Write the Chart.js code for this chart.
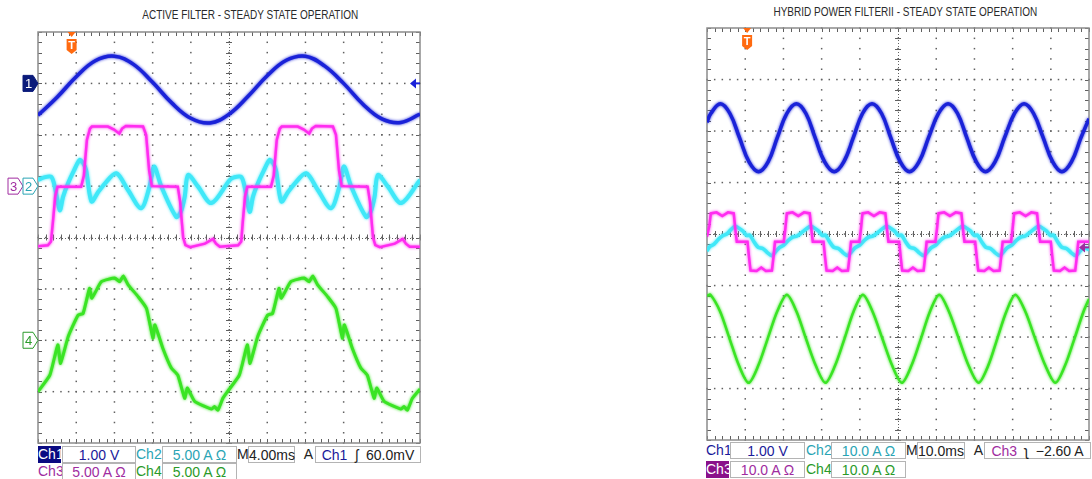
<!DOCTYPE html>
<html lang="en">
<head>
<meta charset="UTF-8">
<title>Active filter / hybrid power filter - steady state operation</title>
<style>
  body { margin: 0; background: #fff; font-family: "Liberation Sans", Arial, sans-serif; }
  #page { position: relative; width: 1092px; height: 479px; overflow: hidden; }
  canvas { position: absolute; top: 0; }
  .title { position: absolute; font-family: "Liberation Sans", Arial, sans-serif; font-size: 13px; color: #2a2a2a; white-space: nowrap; transform: scaleX(0.77); transform-origin: center; }
  .lbl, .box { position: absolute; height: 17px; line-height: 17px; font-size: 14px; white-space: nowrap; text-align: center; box-sizing: border-box; }
  .box { background: #fff; border: 1px solid #b4b4b4; }
</style>
</head>
<body>
<div id="page">
  <div class="title" id="titleLeft" style="left:250px;top:7px">ACTIVE FILTER - STEADY STATE OPERATION</div>
  <div class="title" id="titleRight" style="left:905px;top:4px">HYBRID POWER FILTERII - STEADY STATE OPERATION</div>

  <canvas id="scopeLeft" width="430" height="445" style="left:0"></canvas>
  <canvas id="scopeRight" width="402" height="442" style="left:690px"></canvas>

  <!-- left readout -->
  <div class="lbl" style="left:38px;top:446px;width:23px;background:#0a0a82;color:#fff">Ch1</div>
  <div class="box" style="left:62px;top:446px;width:74px;color:#1a1a9a">1.00 V</div>
  <div class="lbl" style="left:136px;top:446px;width:25px;color:#2aa4b4">Ch2</div>
  <div class="box" style="left:162px;top:446px;width:75px;color:#2aa4b4">5.00 A &Omega;</div>
  <div class="lbl" style="left:237px;top:446px;width:11px;color:#222">M</div>
  <div class="box" style="left:248px;top:446px;width:47px;color:#222">4.00ms</div>
  <div class="lbl" style="left:303px;top:446px;width:11px;color:#222">A</div>
  <div class="box" style="left:315px;top:446px;width:106px;color:#222"><span style="color:#1a1a9a">Ch1</span> &nbsp;&#643;&nbsp; 60.0mV</div>
  <div class="lbl" style="left:38px;top:463px;width:23px;color:#a02ca0">Ch3</div>
  <div class="box" style="left:62px;top:463px;width:74px;color:#a02ca0">5.00 A &Omega;</div>
  <div class="lbl" style="left:136px;top:463px;width:25px;color:#2a9a2a">Ch4</div>
  <div class="box" style="left:162px;top:463px;width:75px;color:#2a9a2a">5.00 A &Omega;</div>

  <!-- right readout -->
  <div class="lbl" style="left:706px;top:442px;width:23px;color:#1a1a9a">Ch1</div>
  <div class="box" style="left:730px;top:442px;width:75px;color:#1a1a9a">1.00 V</div>
  <div class="lbl" style="left:806px;top:442px;width:25px;color:#2aa4b4">Ch2</div>
  <div class="box" style="left:831px;top:442px;width:75px;color:#2aa4b4">10.0 A &Omega;</div>
  <div class="lbl" style="left:906px;top:442px;width:11px;color:#222">M</div>
  <div class="box" style="left:917px;top:442px;width:48px;color:#222">10.0ms</div>
  <div class="lbl" style="left:973px;top:442px;width:11px;color:#222">A</div>
  <div class="box" style="left:984px;top:442px;width:107px;color:#222"><span style="color:#a02ca0">Ch3</span> &nbsp;&#645;&nbsp; &minus;2.60 A</div>
  <div class="lbl" style="left:706px;top:461px;width:23px;background:#8a108a;color:#fff">Ch3</div>
  <div class="box" style="left:730px;top:461px;width:75px;color:#a02ca0">10.0 A &Omega;</div>
  <div class="lbl" style="left:806px;top:461px;width:25px;color:#2a9a2a">Ch4</div>
  <div class="box" style="left:831px;top:461px;width:75px;color:#2a9a2a">10.0 A &Omega;</div>
</div>

<script src="https://cdn.jsdelivr.net/npm/chart.js"></script>
<script>
// all values in screen divisions: time 0..10 div, amplitude -4..4 div from screen centre

// ---- left scope: active filter (4 ms/div) ----
const ch1LeftT = [0, 0.5, 1, 1.5, 2, 2.5, 3, 3.5, 4, 4.5, 5, 5.5, 6, 6.5, 7, 7.5, 8, 8.5, 9, 9.5, 10];
const ch1LeftV = [2.38, 2.73, 3.13, 3.44, 3.53, 3.37, 3.02, 2.62, 2.32, 2.23, 2.40, 2.75, 3.15, 3.45, 3.53, 3.34, 3.00, 2.60, 2.31, 2.24, 2.40];

const ch2LeftT = [0, 0.16, 0.35, 0.45, 0.57, 0.66, 0.79, 0.94, 1.09, 1.18, 1.26, 1.40, 1.57, 1.75, 2.05, 2.36, 2.70, 2.92, 3.04, 3.23, 3.62, 3.74, 3.84, 3.93, 4.19, 4.54,
                  5.02, 5.13, 5.32, 5.42, 5.54, 5.63, 5.76, 5.91, 6.06, 6.15, 6.23, 6.37, 6.54, 6.72, 7.02, 7.33, 7.67, 7.89, 8.01, 8.20, 8.59, 8.71, 8.81, 8.90, 9.16, 9.51, 10];
const ch2LeftV = [1.12, 1.17, 1.18, 0.95, 0.53, 0.80, 1.06, 1.30, 1.51, 1.45, 1.31, 0.70, 0.88, 1.05, 1.25, 0.92, 0.57, 0.99, 1.38, 0.99, 0.40, 0.50, 0.79, 1.22, 0.99, 0.67,
                  1.12, 1.17, 1.18, 0.95, 0.50, 0.80, 1.06, 1.30, 1.51, 1.45, 1.31, 0.70, 0.88, 1.05, 1.25, 0.92, 0.57, 0.99, 1.38, 0.99, 0.40, 0.50, 0.79, 1.22, 0.99, 0.67, 1.12];

const ch3LeftT = [0, 0.26, 0.34, 0.39, 0.45, 0.51, 1.13, 1.20, 1.28, 1.36, 1.41, 1.83, 1.99, 2.13, 2.20, 2.30, 2.75, 2.83, 2.91, 2.98, 3.66, 3.72, 3.80, 3.86, 3.98, 4.37, 4.58, 4.66, 4.76,
                  5.24, 5.32, 5.36, 5.42, 5.48, 6.10, 6.17, 6.25, 6.33, 6.38, 6.80, 6.96, 7.10, 7.17, 7.27, 7.72, 7.80, 7.88, 7.95, 8.63, 8.69, 8.77, 8.83, 8.95, 9.34, 9.55, 9.63, 9.73, 10];
const ch3LeftV = [-0.17, -0.15, -0.08, 0.30, 0.80, 0.99, 0.99, 1.20, 1.90, 2.12, 2.16, 2.16, 2.10, 2.02, 2.12, 2.17, 2.16, 2.00, 1.30, 1.00, 0.99, 0.70, 0.00, -0.15, -0.19, -0.12, -0.03, -0.12, -0.18,
                  -0.15, -0.08, 0.30, 0.80, 0.99, 0.99, 1.20, 1.90, 2.12, 2.16, 2.16, 2.10, 2.02, 2.12, 2.17, 2.16, 2.00, 1.30, 1.00, 0.99, 0.70, 0.00, -0.15, -0.19, -0.12, -0.03, -0.12, -0.18, -0.18];

const ch4LeftT = [0, 0.31, 0.52, 0.59, 0.79, 1.05, 1.18, 1.35, 1.41, 1.66, 2.01, 2.14, 2.23, 2.36, 2.62, 2.84, 3.01, 3.06, 3.27, 3.49, 3.66, 3.84, 3.91, 4.10, 4.54, 4.62, 4.71, 4.84,
                  4.96, 5.27, 5.48, 5.55, 5.75, 6.01, 6.14, 6.31, 6.37, 6.62, 6.97, 7.10, 7.19, 7.32, 7.58, 7.80, 7.97, 8.02, 8.23, 8.45, 8.62, 8.80, 8.87, 9.06, 9.50, 9.58, 9.67, 9.80, 10];
const ch4LeftV = [-3.00, -2.68, -2.09, -2.45, -1.93, -1.51, -1.48, -0.99, -1.18, -0.86, -0.79, -0.86, -0.75, -0.92, -1.15, -1.38, -1.96, -1.70, -2.16, -2.54, -2.68, -3.13, -2.93, -3.19, -3.34, -3.29, -3.36, -3.13,
                  -3.00, -2.68, -2.09, -2.45, -1.93, -1.51, -1.48, -0.99, -1.18, -0.86, -0.79, -0.86, -0.75, -0.92, -1.15, -1.38, -1.96, -1.70, -2.16, -2.54, -2.68, -3.13, -2.93, -3.19, -3.34, -3.29, -3.36, -3.13, -2.95];

// ---- right scope: hybrid power filter II (10 ms/div) ----
const ch1RightT = [0, 0.10, 0.35, 0.60, 0.85, 1.10, 1.35, 1.60, 1.84, 2.09, 2.34, 2.59, 2.83, 3.08, 3.33, 3.58, 3.83, 4.07, 4.32, 4.57, 4.81,
                   5.06, 5.30, 5.55, 5.80, 6.06, 6.31, 6.56, 6.80, 7.05, 7.29, 7.54, 7.79, 8.05, 8.30, 8.55, 8.80, 9.05, 9.29, 9.54, 9.79, 10];
const ch1RightV = [2.17, 2.34, 2.53, 2.34, 1.87, 1.40, 1.21, 1.40, 1.87, 2.34, 2.53, 2.34, 1.87, 1.40, 1.21, 1.40, 1.87, 2.34, 2.53, 2.34, 1.87,
                   1.40, 1.21, 1.40, 1.87, 2.34, 2.53, 2.34, 1.87, 1.40, 1.21, 1.40, 1.87, 2.34, 2.53, 2.34, 1.87, 1.40, 1.21, 1.40, 1.87, 2.24];

const ch2RightT = [0, 0.08, 0.18, 0.30, 0.42, 0.52, 0.62, 0.74, 0.84, 0.94, 1.04, 1.12, 1.22, 1.34, 1.46, 1.58, 1.70,
                   1.80, 1.90, 2.00, 2.12, 2.24, 2.36, 2.50, 2.60, 2.72, 2.82, 2.92, 3.02, 3.10, 3.20, 3.32, 3.44, 3.56, 3.68,
                   3.79, 3.89, 3.99, 4.11, 4.23, 4.35, 4.49, 4.59, 4.71, 4.81, 4.91, 5.01, 5.09, 5.19, 5.31, 5.43, 5.55, 5.67,
                   5.78, 5.88, 5.98, 6.10, 6.22, 6.34, 6.48, 6.58, 6.70, 6.80, 6.90, 7.00, 7.08, 7.18, 7.30, 7.42, 7.54, 7.66,
                   7.77, 7.87, 7.97, 8.09, 8.21, 8.33, 8.47, 8.57, 8.69, 8.79, 8.89, 8.99, 9.07, 9.17, 9.29, 9.41, 9.53, 9.65, 9.76, 9.86, 10];
const ch2RightV = [-0.33, -0.24, -0.20, -0.10, -0.03, 0.00, 0.08, 0.15, 0.11, 0.06, -0.03, -0.02, -0.14, -0.26, -0.28, -0.36, -0.42,
                   -0.34, -0.26, -0.22, -0.13, -0.06, -0.04, 0.04, 0.10, 0.15, 0.11, 0.06, -0.03, -0.02, -0.14, -0.26, -0.28, -0.36, -0.42,
                   -0.34, -0.26, -0.22, -0.13, -0.06, -0.04, 0.04, 0.10, 0.15, 0.11, 0.06, -0.03, -0.02, -0.14, -0.26, -0.28, -0.36, -0.42,
                   -0.34, -0.26, -0.22, -0.13, -0.06, -0.04, 0.04, 0.10, 0.15, 0.11, 0.06, -0.03, -0.02, -0.14, -0.26, -0.28, -0.36, -0.42,
                   -0.34, -0.26, -0.22, -0.13, -0.06, -0.04, 0.04, 0.10, 0.15, 0.11, 0.06, -0.03, -0.02, -0.14, -0.26, -0.28, -0.36, -0.42, -0.34, -0.27, -0.30];

const ch3RightT = [0, 0.06, 0.10, 0.25, 0.40, 0.55, 0.70, 0.74, 0.78, 1.06, 1.10, 1.14, 1.30, 1.42, 1.54, 1.70, 1.74, 1.78, 2.01, 2.05,
                   2.09, 2.24, 2.39, 2.54, 2.69, 2.73, 2.77, 3.05, 3.09, 3.13, 3.29, 3.41, 3.53, 3.69, 3.73, 3.77, 3.99, 4.03,
                   4.07, 4.22, 4.37, 4.52, 4.67, 4.71, 4.75, 5.03, 5.07, 5.11, 5.27, 5.39, 5.51, 5.67, 5.71, 5.75, 5.98, 6.02,
                   6.06, 6.21, 6.36, 6.51, 6.66, 6.70, 6.74, 7.02, 7.06, 7.10, 7.26, 7.38, 7.50, 7.66, 7.70, 7.74, 7.96, 8.00,
                   8.04, 8.19, 8.34, 8.49, 8.64, 8.68, 8.72, 9.00, 9.04, 9.08, 9.24, 9.36, 9.48, 9.64, 9.68, 9.72, 10];
const ch3RightV = [-0.05, 0.15, 0.40, 0.42, 0.35, 0.42, 0.40, 0.10, -0.15, -0.15, -0.45, -0.71, -0.72, -0.65, -0.72, -0.71, -0.45, -0.15, -0.15, 0.10,
                   0.40, 0.42, 0.35, 0.42, 0.40, 0.10, -0.15, -0.15, -0.45, -0.71, -0.72, -0.65, -0.72, -0.71, -0.45, -0.15, -0.15, 0.10,
                   0.40, 0.42, 0.35, 0.42, 0.40, 0.10, -0.15, -0.15, -0.45, -0.71, -0.72, -0.65, -0.72, -0.71, -0.45, -0.15, -0.15, 0.10,
                   0.40, 0.42, 0.35, 0.42, 0.40, 0.10, -0.15, -0.15, -0.45, -0.71, -0.72, -0.65, -0.72, -0.71, -0.45, -0.15, -0.15, 0.10,
                   0.40, 0.42, 0.35, 0.42, 0.40, 0.10, -0.15, -0.15, -0.45, -0.71, -0.72, -0.65, -0.72, -0.71, -0.45, -0.15, -0.15];

const ch4RightT = [0, 0.09, 0.34, 0.59, 0.84, 1.09, 1.34, 1.59, 1.84, 2.09, 2.34, 2.59, 2.85, 3.10, 3.35, 3.60, 3.84, 4.08, 4.33, 4.59, 4.85,
                   5.10, 5.35, 5.60, 5.84, 6.08, 6.33, 6.59, 6.85, 7.11, 7.36, 7.60, 7.84, 8.07, 8.33, 8.59, 8.86, 9.12, 9.37, 9.62, 9.86, 10];
const ch4RightV = [-1.20, -1.18, -1.50, -2.03, -2.56, -2.89, -2.56, -2.03, -1.50, -1.18, -1.50, -2.03, -2.56, -2.89, -2.56, -2.03, -1.50, -1.18, -1.50, -2.03, -2.56,
                   -2.89, -2.56, -2.03, -1.50, -1.18, -1.50, -2.03, -2.56, -2.89, -2.56, -2.03, -1.50, -1.18, -1.50, -2.03, -2.56, -2.89, -2.56, -2.03, -1.50, -1.26];

const BLUE = '#1a22d8', CYAN = '#40e8f8', MAGENTA = '#ff2cf0', GREEN = '#3ae424';

function pts(t, v) {
    return t.map((x, i) => ({ x: x, y: v[i] }));
}

function trace(t, v, color, width, tension, order) {
    return { data: pts(t, v), borderColor: color, borderWidth: width, tension: tension, pointRadius: 0, fill: false, order: order };
}

// graticule, ground tags, trigger marks
const scopeGrid = {
    id: 'scopeGrid',
    beforeDatasetsDraw(chart) {
        const { ctx, chartArea: a, scales: { x, y } } = chart;
        ctx.save();
        ctx.fillStyle = '#606060';
        for (let i = 1; i < 10; i++) {
            const px = x.getPixelForValue(i);
            for (let v = -40; v <= 40; v += 2) ctx.fillRect(px - 0.7, y.getPixelForValue(v / 10) - 0.7, 1.5, 1.5);
        }
        for (let j = -3; j <= 3; j++) {
            const py = y.getPixelForValue(j);
            for (let t = 0; t <= 50; t++) ctx.fillRect(x.getPixelForValue(t / 5) - 0.7, py - 0.7, 1.5, 1.5);
        }
        // centre cross and border ticks
        ctx.strokeStyle = '#606060';
        ctx.lineWidth = 1;
        ctx.beginPath();
        const cx = x.getPixelForValue(5), cy = y.getPixelForValue(0);
        for (let t = 0; t <= 50; t++) {
            const px = Math.round(x.getPixelForValue(t / 5)) + 0.5;
            ctx.moveTo(px, cy - 3); ctx.lineTo(px, cy + 3);
            ctx.moveTo(px, a.top); ctx.lineTo(px, a.top + 4);
            ctx.moveTo(px, a.bottom); ctx.lineTo(px, a.bottom - 4);
        }
        for (let v = -20; v <= 20; v++) {
            const py = Math.round(y.getPixelForValue(v / 5)) + 0.5;
            ctx.moveTo(cx - 3, py); ctx.lineTo(cx + 3, py);
            ctx.moveTo(a.left, py); ctx.lineTo(a.left + 4, py);
            ctx.moveTo(a.right, py); ctx.lineTo(a.right - 4, py);
        }
        ctx.stroke();
        ctx.setLineDash([1, 2]);
        ctx.beginPath();
        ctx.moveTo(a.left, Math.round(cy) + 0.5); ctx.lineTo(a.right, Math.round(cy) + 0.5);
        ctx.moveTo(Math.round(cx) + 0.5, a.top); ctx.lineTo(Math.round(cx) + 0.5, a.bottom);
        ctx.stroke();
        ctx.setLineDash([]);
        ctx.strokeStyle = '#8c8c8c';
        ctx.lineWidth = 1.5;
        ctx.strokeRect(a.left, a.top, a.right - a.left, a.bottom - a.top);
        ctx.restore();
    },
    beforeDatasetDraw(chart, args) {
        const ctx = chart.ctx;
        ctx.save();
        ctx.shadowColor = args.meta.dataset.options.borderColor;
        ctx.shadowBlur = 3;
    },
    afterDatasetDraw(chart) {
        chart.ctx.restore();
    },
    afterDraw(chart, args, opts) {
        const { ctx, chartArea: a, scales: { x, y } } = chart;
        ctx.save();
        ctx.font = '13px "Liberation Sans", Arial, sans-serif';
        ctx.textAlign = 'center';
        ctx.textBaseline = 'middle';
        (opts.tags || []).forEach(tg => {
            const xr = tg.right, yc = y.getPixelForValue(tg.level), h = 16, w = 15;
            ctx.beginPath();
            ctx.moveTo(xr - w, yc - h / 2);
            ctx.lineTo(xr - 5, yc - h / 2);
            ctx.lineTo(xr, yc);
            ctx.lineTo(xr - 5, yc + h / 2);
            ctx.lineTo(xr - w, yc + h / 2);
            ctx.closePath();
            ctx.fillStyle = tg.filled ? tg.color : '#fff';
            ctx.fill();
            ctx.strokeStyle = tg.color;
            ctx.lineWidth = 1;
            ctx.stroke();
            ctx.fillStyle = tg.filled ? '#fff' : tg.color;
            ctx.fillText(tg.text, xr - w / 2 - 2, yc + 1);
        });
        // trigger position
        const tx = x.getPixelForValue(opts.trigX);
        ctx.fillStyle = '#ff6a10';
        ctx.beginPath();
        ctx.moveTo(tx - 4, a.top); ctx.lineTo(tx + 4, a.top); ctx.lineTo(tx, a.top + 5); ctx.closePath();
        ctx.fill();
        ctx.beginPath();
        ctx.moveTo(tx - 5, a.top + 7); ctx.lineTo(tx + 5, a.top + 7); ctx.lineTo(tx + 5, a.top + 18);
        ctx.lineTo(tx, a.top + 22); ctx.lineTo(tx - 5, a.top + 18); ctx.closePath();
        ctx.fill();
        ctx.fillStyle = '#fff';
        ctx.font = 'bold 11px "Liberation Sans", Arial, sans-serif';
        ctx.fillText('T', tx, a.top + 14);
        // trigger level arrow on the right edge
        if (opts.level) {
            const ly = y.getPixelForValue(opts.level.value);
            ctx.fillStyle = opts.level.color;
            ctx.strokeStyle = opts.level.color;
            ctx.lineWidth = 2;
            ctx.beginPath();
            ctx.moveTo(a.right - 10, ly); ctx.lineTo(a.right - 4, ly - 5); ctx.lineTo(a.right - 4, ly + 5); ctx.closePath();
            ctx.fill();
            ctx.beginPath();
            ctx.moveTo(a.right - 5, ly); ctx.lineTo(a.right, ly);
            ctx.stroke();
        }
        ctx.restore();
    }
};

function makeScope(id, datasets, pad, marks) {
    return new Chart(document.getElementById(id), {
        type: 'line',
        data: { datasets: datasets },
        options: {
            responsive: false,
            animation: false,
            layout: { padding: pad },
            scales: {
                x: { type: 'linear', min: 0, max: 10, display: false },
                y: { type: 'linear', min: -4, max: 4, display: false }
            },
            plugins: { legend: { display: false }, tooltip: { enabled: false }, scopeGrid: marks }
        },
        plugins: [scopeGrid]
    });
}

makeScope('scopeLeft', [
    trace(ch1LeftT, ch1LeftV, BLUE, 3.5, 0.4, 1),
    trace(ch3LeftT, ch3LeftV, MAGENTA, 2.5, 0, 2),
    trace(ch2LeftT, ch2LeftV, CYAN, 4, 0.3, 3),
    trace(ch4LeftT, ch4LeftV, GREEN, 3, 0.15, 4)
], { left: 38, top: 32, right: 10, bottom: 2 }, {
    trigX: 0.88,
    level: { value: 3, color: BLUE },
    tags: [
        { text: '1', level: 3, right: 38, color: '#0a1a7a', filled: true },
        { text: '3', level: 1, right: 23, color: '#a02ca0', filled: false },
        { text: '2', level: 1, right: 38, color: '#2aa4b4', filled: false },
        { text: '4', level: -2, right: 38, color: '#2a9a2a', filled: false }
    ]
});

makeScope('scopeRight', [
    trace(ch1RightT, ch1RightV, BLUE, 3.5, 0.4, 1),
    trace(ch3RightT, ch3RightV, MAGENTA, 2.5, 0, 2),
    trace(ch2RightT, ch2RightV, CYAN, 3.5, 0.3, 3),
    trace(ch4RightT, ch4RightV, GREEN, 2.5, 0.3, 4)
], { left: 17, top: 28, right: 3, bottom: 2 }, {
    trigX: 1.05,
    level: { value: -0.26, color: '#a02ca0' },
    tags: [
        { text: '1', level: 2, right: 707, color: '#1a22c0', filled: false },
        { text: '3', level: 0, right: 707, color: '#8a108a', filled: true },
        { text: '4', level: -2, right: 707, color: '#2a9a2a', filled: false }
    ]
});

// centre the titles on their screens
['titleLeft', 'titleRight'].forEach(id => {
    const el = document.getElementById(id);
    el.style.left = (parseFloat(el.style.left) - el.offsetWidth / 2) + 'px';
});
</script>
</body>
</html>
